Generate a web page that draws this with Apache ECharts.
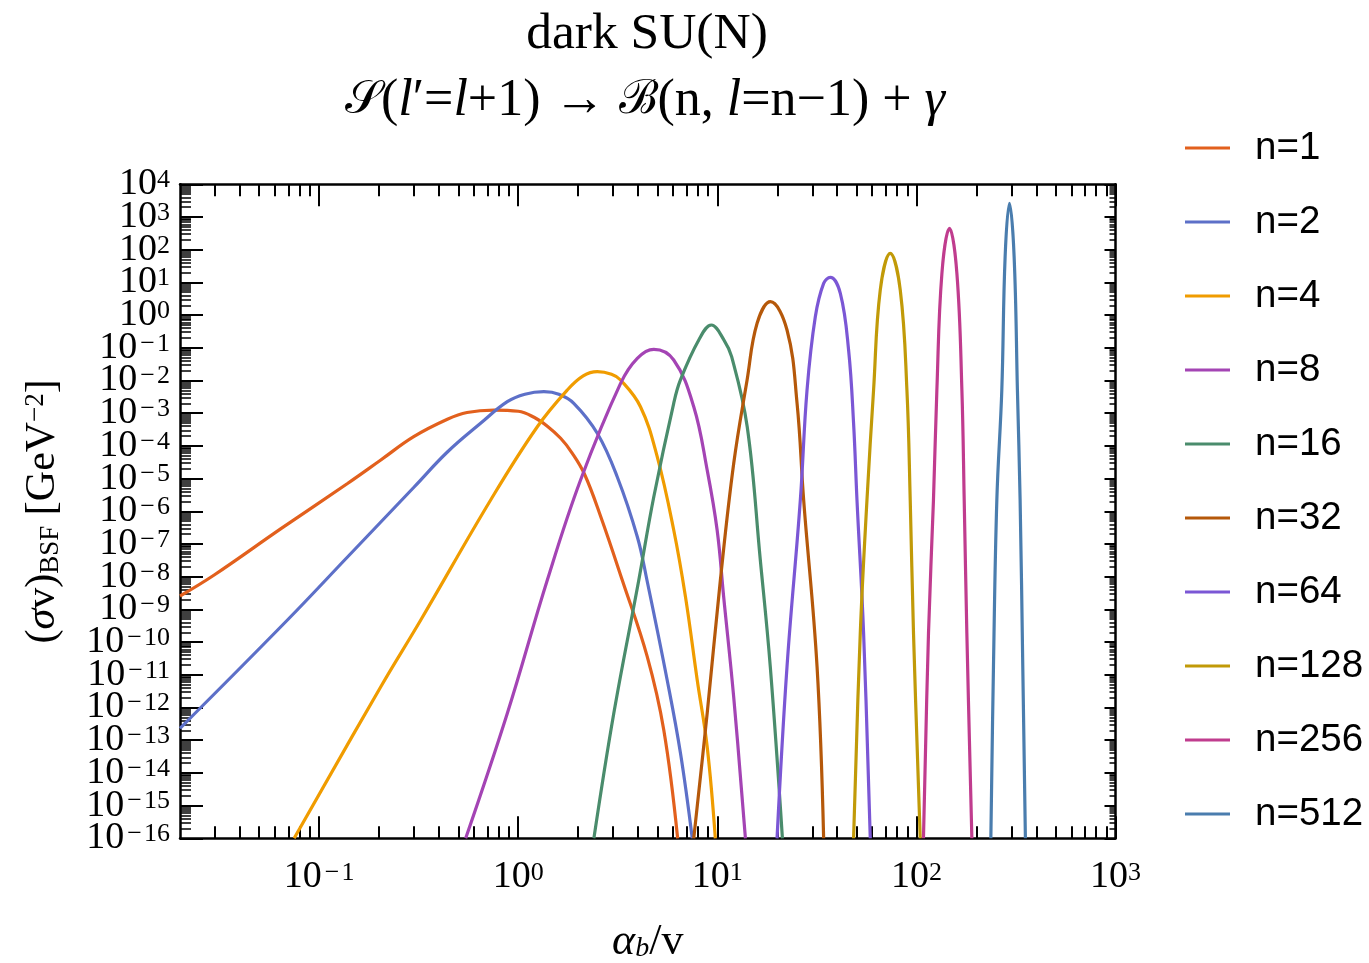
<!DOCTYPE html>
<html><head><meta charset="utf-8">
<script src="https://cdn.jsdelivr.net/npm/echarts@6/dist/echarts.min.js"></script>
<style>html,body{margin:0;padding:0;background:#fff}#c{width:1369px;height:963px}</style>
</head><body><div id="c"></div>
<script>
// ---------- data ----------
const seriesNames = ['n=1','n=2','n=4','n=8','n=16','n=32','n=64','n=128','n=256','n=512'];
const seriesColors = ['#E2601D','#5D70C8','#F09C00','#A444B4','#4A8C6C','#B5580A','#7B57D5','#C19A08','#C03C8E','#4A7DAE'];

const n1 = [[0.02,2.57e-9],[0.0297,1.13e-8],[0.0643,2.95e-7],[0.1388,7.1e-6],[0.204,3.71e-5],[0.2985,1.91e-4],[0.4406,6.5e-4],[0.553,1.05e-3],[0.755,1.25e-3],[1.00,1.15e-3],[1.20,7.5e-4],[1.40,4.0e-4],[1.633,1.71e-4],[1.85,6.5e-5],[2.15,1.38e-5],[2.60,6.7e-7],[3.329,7.93e-9],[4.446,3.58e-11],[5.383,2.05e-13],[6.32,1e-16]];
const n2 = [[0.02,2.31e-13],[0.0693,4.74e-10],[0.1388,4.0e-8],[0.300,5.53e-6],[0.4406,6.5e-5],[0.647,4.91e-4],[0.881,2.25e-3],[1.08,3.8e-3],[1.346,4.54e-3],[1.60,3.8e-3],[1.901,2.01e-3],[2.495,2.43e-4],[3.141,1.14e-5],[3.963,1.67e-7],[4.43,7.93e-9],[5.598,6.93e-12],[6.531,3.97e-14],[7.482,1e-16]];
const n4 = [[0.0749,1e-16],[0.204,4.33e-12],[0.3239,4.74e-10],[0.7268,2.22e-6],[1.247,3.86e-4],[1.764,5.12e-3],[2.12,1.38e-2],[2.495,1.86e-2],[2.94,1.55e-2],[3.266,1.04e-2],[4.111,1.58e-3],[4.989,4.68e-5],[6.039,2.68e-7],[6.918,2.44e-9],[7.925,6.93e-12],[8.892,6.32e-14],[9.772,1e-16]];
const n8 = [[0.5445,1e-16],[0.8816,6.65e-13],[1.400,7.93e-9],[2.056,9.06e-6],[3.266,8.2e-3],[3.963,4.78e-2],[4.797,8.99e-2],[6.039,4.24e-2],[7.614,1.58e-3],[8.892,1.83e-5],[9.977,2.68e-7],[10.76,2.44e-9],[12.08,2.14e-12],[13.84,1e-16]];
const n16 = [[2.399,1e-16],[3.020,6.65e-13],[4.033,7.93e-9],[4.797,2.79e-6],[6.039,2.01e-3],[6.527,1.04e-2],[8.07,0.173],[9.333,0.498],[10.8,0.173],[11.8,5.35e-2],[14.13,3.86e-4],[16.44,3.24e-8],[18.45,1.77e-11],[21.23,1e-16]];
const n32 = [[7.614,1e-16],[8.892,6.65e-13],[10.36,7.93e-9],[12.09,2.94e-5],[14.11,1.04e-2],[15.84,0.561],[18.47,2.57],[22.39,0.35],[25.15,2.01e-3],[27.14,2.22e-6],[31.69,1.77e-11],[34.20,1e-16]];
const n64 = [[19.95,1e-16],[22.39,1.77e-11],[26.12,2.22e-6],[28.22,5.12e-3],[31.06,0.893],[34.20,9.38],[36.94,14.3],[41.48,4.65],[45.64,8.57e-2],[48.35,4.91e-4],[50.29,2.22e-6],[54.29,1.86e-10],[58.64,1e-16]];
const n128 = [[48.35,1e-16],[52.24,1.86e-10],[56.45,2.22e-6],[60.93,5.12e-3],[65.83,5.86],[73.89,77.6],[82.95,5.86],[89.60,5.12e-3],[93.09,2.22e-6],[96.69,1.86e-10],[104.5,1e-16]];
const n256 = [[108.5,1e-16],[115.0,1.86e-10],[121.8,2.22e-6],[126.7,5.12e-3],[134.3,19.0],[146.6,451],[159.7,19.0],[169.2,5.12e-3],[173.8,2.22e-6],[179.2,1.86e-10],[189.9,1e-16]];
const n512 = [[236.5,1e-16],[243.8,1.77e-11],[253.5,2.22e-6],[268.5,5.12e-3],[279.0,61.1],[293.3,2620],[309.6,61.1],[321.6,5.12e-3],[331.8,2.22e-6],[342.2,1.77e-11],[352.7,1e-16]];
const seriesData = [n1,n2,n4,n8,n16,n32,n64,n128,n256,n512];

// ---------- axes / ticks ----------
const xMin = 0.02, xMax = 1000, yMin = 1e-16, yMax = 1e4;
const xMajor = [0.1, 1, 10, 100, 1000];
const yMajor = [1e-16,1e-15,1e-14,1e-13,1e-12,1e-11,1e-10,1e-9,1e-8,1e-7,1e-6,1e-5,1e-4,1e-3,1e-2,1e-1,1,10,100,1000,1e4];
const minorMult = [2,3,4,5,6,7,8,9];
const xDecades = [0.01, 0.1, 1, 10, 100];
const yDecades = yMajor.slice(0, -1);
const xMinor = [], yMinor = [];
xDecades.forEach(d => minorMult.forEach(m => { const v = +(m*d).toPrecision(6); if (v > xMin && v < xMax) xMinor.push(v); }));
yDecades.forEach(d => minorMult.forEach(m => { yMinor.push(+(m*d).toPrecision(6)); }));
const nudge = arr => arr.map((v, i) => i === 0 ? v * 1.00001 : (i === arr.length - 1 ? v * 0.99999 : v));
const xMajorT = xMajor.slice(0, -1).concat([xMajor[xMajor.length - 1] * 0.99999]);
const yMajorT = nudge(yMajor);

const serif = 'Liberation Serif';
function powLabel(v) {
  const l = Math.log10(v), e = Math.round(l);
  if (Math.abs(l - e) > 1e-3) return '';
  return e < 0 ? '{base|10}{minus|\u2212}{sup|' + (-e) + '}' : '{base|10}{sup|' + e + '}';
}
const labelRich = {
  base: {fontFamily: serif, fontSize: 38, lineHeight: 34, fill: '#000', color: '#000'},
  minus: {fontFamily: serif, fontSize: 26, lineHeight: 14, verticalAlign: 'top', padding: [0, 2, 0, 3], fill: '#000', color: '#000'},
  sup: {fontFamily: serif, fontSize: 26, lineHeight: 14, verticalAlign: 'top', fill: '#000', color: '#000'}
};
const lineCol = '#000';
function xAx(pos, main, minor) {
  return {
    type: 'log', logBase: 10, min: xMin, max: xMax, gridIndex: 0, position: pos,
    splitLine: {show: false},
    axisLine: {show: !minor, onZero: false, lineStyle: {color: lineCol, width: 2.5}},
    axisTick: {show: true, inside: true, length: minor ? 12 : 22, customValues: minor ? xMinor : xMajorT, lineStyle: {color: lineCol, width: 2}},
    axisLabel: {show: false},
    name: main ? '{i|α}{sub|b}{n|/v}' : '',
    nameLocation: 'middle', nameGap: 84,
    nameTextStyle: {fontFamily: serif, fontSize: 44, color: '#000', rich: {
      i: {fontFamily: serif, fontStyle: 'italic', fontSize: 44, lineHeight: 40, color: '#000'},
      sub: {fontFamily: serif, fontStyle: 'italic', fontSize: 28, lineHeight: 12, verticalAlign: 'bottom', color: '#000'},
      n: {fontFamily: serif, fontSize: 44, lineHeight: 40, color: '#000'}
    }}
  };
}
function yAx(pos, main, minor) {
  const rightSide = pos === 'right';
  return {
    type: 'log', logBase: 10, min: yMin, max: yMax, gridIndex: 0, position: pos,
    splitLine: {show: false},
    axisLine: {show: !minor, onZero: false, lineStyle: {color: lineCol, width: 2.5}},
    axisTick: {show: true, inside: true, length: rightSide ? (minor ? 6 : 11) : (minor ? 11 : 23), customValues: minor ? yMinor : yMajorT, lineStyle: {color: lineCol, width: minor ? 1.5 : 2}},
    axisLabel: {show: false},
    name: main ? '{n|(}{i|σ}{n|v)}{sub|BSF}{n| [GeV}{sup|\u22122}{n|]}' : '',
    nameLocation: 'middle', nameRotate: 90, nameGap: 116,
    nameTextStyle: {fontFamily: serif, fontSize: 42, color: '#000', rich: {
      n: {fontFamily: serif, fontSize: 42, lineHeight: 42, color: '#000'},
      i: {fontFamily: serif, fontStyle: 'italic', fontSize: 42, lineHeight: 42, color: '#000'},
      sub: {fontFamily: serif, fontSize: 27, lineHeight: 14, verticalAlign: 'bottom', color: '#000'},
      sup: {fontFamily: serif, fontSize: 27, lineHeight: 16, verticalAlign: 'top', color: '#000'}
    }}
  };
}

// tick labels drawn at the axis' own coordinates
const yLabelSeries = {
  type: 'custom', name: 'yLabels', xAxisIndex: 0, yAxisIndex: 0, clip: false, silent: true, z: 10,
  data: yMajor.map(v => [xMin, v]),
  renderItem: (params, api) => {
    const p = api.coord([api.value(0), api.value(1)]);
    return {type: 'text', x: p[0] - 10, y: p[1],
      style: {text: powLabel(api.value(1)), rich: labelRich, align: 'right', verticalAlign: 'middle', fill: '#000', fontFamily: serif, fontSize: 38}};
  }
};
const xLabelSeries = {
  type: 'custom', name: 'xLabels', xAxisIndex: 0, yAxisIndex: 0, clip: false, silent: true, z: 10,
  data: xMajor.map(v => [v, yMin]),
  renderItem: (params, api) => {
    const p = api.coord([api.value(0), api.value(1)]);
    return {type: 'text', x: p[0], y: p[1] + 22,
      style: {text: powLabel(api.value(0)), rich: labelRich, align: 'center', verticalAlign: 'top', fill: '#000', fontFamily: serif, fontSize: 38}};
  }
};

const chart = echarts.init(document.getElementById('c'), null, {renderer: 'canvas'});
const titleRich = {
  n: {fontFamily: serif, fontSize: 52, lineHeight: 58, color: '#000'},
  i: {fontFamily: serif, fontStyle: 'italic', fontSize: 52, lineHeight: 58, color: '#000'},
  s: {fontFamily: 'DejaVu Serif', fontSize: 47, lineHeight: 58, color: '#000'}
};
chart.setOption({
  animation: false,
  backgroundColor: '#fff',
  title: [
    {text: 'dark SU(N)', left: 642, top: 3, textAlign: 'center',
     textStyle: {fontFamily: serif, fontSize: 51.5, fontWeight: 'normal', color: '#000'}},
    {text: '{s|\uD835\uDCAE}{n|(}{i|l}{n|\u2032=}{i|l}{n|+1) \u2192 }{s|\u212C}{n|(n, }{i|l}{n|=n\u22121) + }{i|γ}',
     left: 640, top: 67, textAlign: 'center', textStyle: {fontFamily: serif, fontSize: 52, fontWeight: 'normal', color: '#000', rich: titleRich}}
  ],
  grid: {left: 180, top: 184.3, width: 935.5, height: 654, containLabel: false, outerBoundsMode: 'none'},
  xAxis: [xAx('bottom', true, false), xAx('bottom', false, true), xAx('top', false, false), xAx('top', false, true)],
  yAxis: [yAx('left', true, false), yAx('left', false, true), yAx('right', false, false), yAx('right', false, true)],
  legend: {
    orient: 'vertical', left: 1185, top: 126, padding: 0, itemWidth: 45, itemHeight: 3, itemGap: 30,
    icon: 'rect', selectedMode: false, data: seriesNames,
    textStyle: {fontFamily: 'Liberation Sans', fontSize: 38.5, lineHeight: 44, color: '#000', padding: [0, 0, 0, 20]}
  },
  series: seriesNames.map((nm, i) => ({
    name: nm, type: 'line', xAxisIndex: 0, yAxisIndex: 0,
    data: seriesData[i], showSymbol: false, symbol: 'none', smooth: 0.4,
    color: seriesColors[i],
    lineStyle: {color: seriesColors[i], width: 3.2},
    clip: true
  })).concat([yLabelSeries, xLabelSeries])
});
</script></body></html>
